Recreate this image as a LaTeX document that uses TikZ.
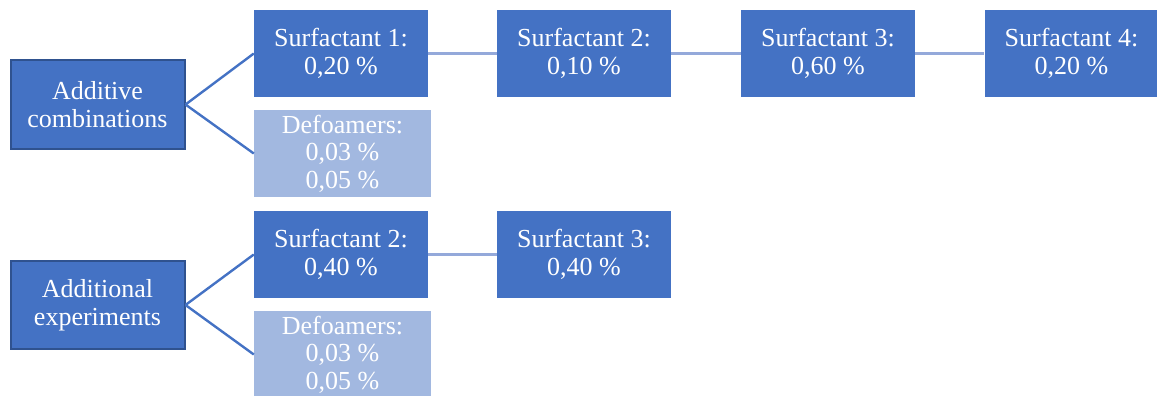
\documentclass[tikz,border=0pt]{standalone}
\usepackage{fontspec}
\setmainfont{Liberation Serif}
\definecolor{boxdark}{HTML}{4472C4}
\definecolor{boxlight}{HTML}{A2B8E0}
\definecolor{borderdark}{HTML}{2F528F}
\definecolor{linelight}{HTML}{94A9DA}
\begin{document}
\begin{tikzpicture}[x=1pt,y=-1pt,
  base/.style={inner sep=0pt, text=white, align=center,
    font=\fontsize{26}{27.5}\selectfont},
  darkbox/.style={base, fill=boxdark, minimum width=174pt, minimum height=87pt},
  lightbox/.style={base, fill=boxlight, minimum width=177pt, minimum height=87pt},
  rootbox/.style={base, fill=boxdark, draw=borderdark, line width=2pt,
    minimum width=174pt, minimum height=88pt},
  branch/.style={draw=boxdark, line width=2.4pt},
  chain/.style={draw=linelight, line width=2.6pt}]
\useasboundingbox (0,0) rectangle (1157,396);
\node[rootbox] (a1) at (97.5,104.5) {Additive\\combinations};
\node[darkbox] (s1) at (341,53.5) {Surfactant 1:\\0,20 \%};
\node[darkbox] (s2) at (584,53.5) {Surfactant 2:\\0,10 \%};
\node[darkbox] (s3) at (828,53.5) {Surfactant 3:\\0,60 \%};
\node[darkbox] (s4) at (1071.5,53.5) {Surfactant 4:\\0,20 \%};
\node[lightbox] (d1) at (342.5,153.5) {Defoamers:\\0,03 \%\\0,05 \%};
\node[rootbox] (a2) at (97.5,305) {Additional\\experiments};
\node[darkbox] (t2) at (341,254.5) {Surfactant 2:\\0,40 \%};
\node[darkbox] (t3) at (584,254.5) {Surfactant 3:\\0,40 \%};
\node[lightbox] (d2) at (342.5,354.5) {Defoamers:\\0,03 \%\\0,05 \%};
\draw[branch] (a1.east) -- (s1.west);
\draw[branch] (a1.east) -- (d1.west);
\draw[branch] (a2.east) -- (t2.west);
\draw[branch] (a2.east) -- (d2.west);
\draw[chain] (s1) -- (s2);
\draw[chain] (s2) -- (s3);
\draw[chain] (s3) -- (s4);
\draw[chain] (t2) -- (t3);
\end{tikzpicture}
\end{document}
